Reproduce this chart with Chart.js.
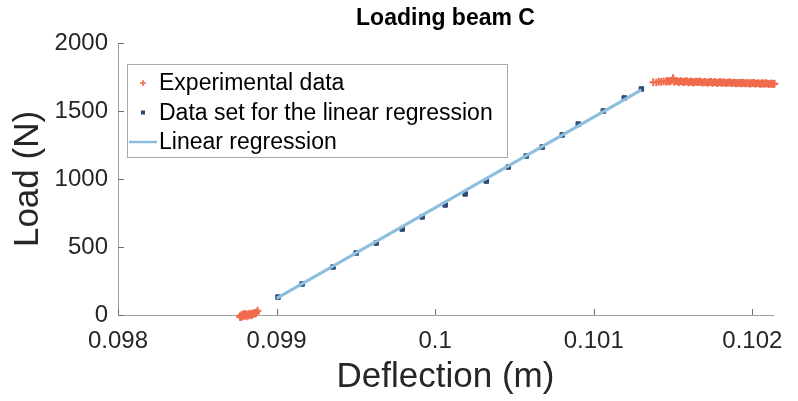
<!DOCTYPE html>
<html>
<head>
<meta charset="utf-8">
<script src="https://cdn.jsdelivr.net/npm/chart.js@4.4.1/dist/chart.umd.min.js"></script>
<style>
  html, body { margin: 0; padding: 0; background: #fff; }
  #wrap { width: 798px; height: 401px; position: relative; }
</style>
</head>
<body>
<div id="wrap"><canvas id="c"></canvas></div>
<script>
// ------------------------------------------------------------
// DATA
// ------------------------------------------------------------
const chartTitle = "Loading beam C";
const xTicks = [0.098, 0.099, 0.1, 0.101, 0.102];
const yTicks = [0, 500, 1000, 1500, 2000];

// experimental data: small cluster before loading starts
const expStartX = [0.09877, 0.09877, 0.09878, 0.09878, 0.09879, 0.09879, 0.09880, 0.09880, 0.09881, 0.09881,
                   0.09882, 0.09882, 0.09883, 0.09883, 0.09884, 0.09884, 0.09885, 0.09885, 0.09886, 0.09886,
                   0.09887, 0.09887, 0.09888];
const expStartY = [-8, -16, 2, -14, 5, -9, -4, 8, -10, 3,
                   6, -6, 10, 0, 7, -3, 12, 4, 9, 14,
                   11, 18, 32];

// experimental data: plateau after yielding
const expPlateauX = [0.101375, 0.101395, 0.101410, 0.101425, 0.101440, 0.101455, 0.101470, 0.101485, 0.101500, 0.101515,
                     0.101530, 0.101545, 0.101560, 0.101575, 0.101590, 0.101605, 0.101620, 0.101635, 0.101650, 0.101665,
                     0.101680, 0.101695, 0.101710, 0.101725, 0.101740, 0.101755, 0.101770, 0.101785, 0.101800, 0.101815,
                     0.101830, 0.101845, 0.101860, 0.101875, 0.101890, 0.101905, 0.101920, 0.101935, 0.101950, 0.101965,
                     0.101980, 0.101995, 0.102010, 0.102025, 0.102040, 0.102055, 0.102070, 0.102085, 0.102100, 0.102115,
                     0.102130, 0.102140];
const expPlateauY = [1712, 1710, 1716, 1714, 1718, 1715, 1719, 1722, 1742, 1720,
                     1717, 1719, 1715, 1716, 1718, 1713, 1715, 1712, 1714, 1716,
                     1711, 1713, 1710, 1712, 1714, 1709, 1711, 1708, 1712, 1710,
                     1707, 1709, 1711, 1706, 1708, 1705, 1707, 1709, 1704, 1706,
                     1703, 1705, 1707, 1702, 1704, 1701, 1703, 1705, 1700, 1702,
                     1699, 1701];
const expPlateau2X = [0.101462, 0.101477, 0.101492, 0.101507, 0.101522, 0.101537, 0.101552, 0.101567, 0.101582, 0.101597,
                      0.101612, 0.101627, 0.101642, 0.101657, 0.101672, 0.101687, 0.101702, 0.101717, 0.101732, 0.101747,
                      0.101762, 0.101777, 0.101792, 0.101807, 0.101822, 0.101837, 0.101852, 0.101867, 0.101882, 0.101897,
                      0.101912, 0.101927, 0.101942, 0.101957, 0.101972, 0.101987, 0.102002, 0.102017, 0.102032, 0.102047,
                      0.102062, 0.102077, 0.102092, 0.102107, 0.102122, 0.102135];
const expPlateau2Y = [1722, 1716, 1724, 1713, 1721, 1712, 1720, 1711, 1719, 1710,
                      1718, 1709, 1717, 1711, 1716, 1708, 1715, 1707, 1714, 1706,
                      1713, 1707, 1712, 1705, 1711, 1706, 1710, 1704, 1709, 1703,
                      1708, 1702, 1707, 1703, 1706, 1701, 1705, 1700, 1704, 1699,
                      1703, 1698, 1702, 1697, 1701, 1698];

// data set used for the linear regression
const fitX = [0.099009, 0.099161, 0.099356, 0.099502, 0.099628, 0.099792, 0.099918, 0.100063, 0.100189,
              0.100322, 0.100461, 0.100574, 0.100675, 0.100801, 0.100902, 0.101060, 0.101192, 0.101300];
const fitY = [132, 228, 353, 456, 529, 632, 721, 809, 890,
              985, 1088, 1169, 1235, 1324, 1404, 1500, 1596, 1662];

// linear regression end points
const regX = [0.09900, 0.10130];
const regY = [122, 1655];

const toPoints = (xs, ys) => xs.map((x, i) => ({ x, y: ys[i] }));

const RED = "#F06B4C";
const NAVY = "#2E4B76";
const LIGHTBLUE = "#8EBEDD";
const TEXT = "#262626";
const FONT = "'Liberation Sans', Arial, Helvetica, sans-serif";

Chart.defaults.font.family = FONT;
Chart.defaults.color = TEXT;

// ------------------------------------------------------------
// PLUGINS
// ------------------------------------------------------------
// MATLAB style: ticks pointing into the plot
const innerTicks = {
  id: "innerTicks",
  beforeDatasetsDraw(chart) {
    const { ctx, chartArea, scales } = chart;
    ctx.save();
    ctx.strokeStyle = "#6E6E6E";
    ctx.lineWidth = 1;
    ctx.beginPath();
    scales.x.ticks.forEach(t => {
      const px = Math.round(scales.x.getPixelForValue(t.value)) + 0.5;
      ctx.moveTo(px, chartArea.bottom);
      ctx.lineTo(px, chartArea.bottom - 6);
    });
    scales.y.ticks.forEach(t => {
      const py = Math.round(scales.y.getPixelForValue(t.value)) + 0.5;
      ctx.moveTo(chartArea.left, py);
      ctx.lineTo(chartArea.left + 6, py);
    });
    ctx.stroke();
    ctx.restore();
  }
};

// title centred over the axes
const axesTitle = {
  id: "axesTitle",
  afterDraw(chart) {
    const { ctx, chartArea } = chart;
    ctx.save();
    ctx.font = "bold 23px " + FONT;
    ctx.fillStyle = "#000";
    ctx.textAlign = "center";
    ctx.textBaseline = "middle";
    ctx.fillText(chartTitle, (chartArea.left + chartArea.right) / 2, 19);
    ctx.restore();
  }
};

// legend box in the upper left of the axes
const boxLegend = {
  id: "boxLegend",
  afterDraw(chart) {
    const { ctx } = chart;
    const box = { x: 127, y: 64, w: 380, h: 93 };
    const rows = [83, 112.5, 142];
    const sets = chart.data.datasets;

    ctx.save();
    ctx.fillStyle = "#fff";
    ctx.fillRect(box.x, box.y, box.w, box.h);
    ctx.strokeStyle = "#A8A8A8";
    ctx.lineWidth = 1;
    ctx.strokeRect(box.x + 0.5, box.y + 0.5, box.w, box.h);

    // red cross
    ctx.strokeStyle = sets[0].borderColor;
    ctx.lineWidth = 1.5;
    ctx.beginPath();
    ctx.moveTo(140, rows[0]); ctx.lineTo(146, rows[0]);
    ctx.moveTo(143, rows[0] - 3); ctx.lineTo(143, rows[0] + 3);
    ctx.stroke();

    // navy square
    ctx.fillStyle = sets[1].backgroundColor;
    ctx.fillRect(141, rows[1] - 2, 4, 4);

    // light blue line
    ctx.strokeStyle = sets[2].borderColor;
    ctx.lineWidth = 2.5;
    ctx.beginPath();
    ctx.moveTo(129, rows[2]); ctx.lineTo(157, rows[2]);
    ctx.stroke();

    ctx.font = "23px " + FONT;
    ctx.fillStyle = "#000";
    ctx.textAlign = "left";
    ctx.textBaseline = "middle";
    sets.forEach((ds, i) => ctx.fillText(ds.label, 159, rows[i] + 1));
    ctx.restore();
  }
};

// ------------------------------------------------------------
// CHART
// ------------------------------------------------------------
new Chart(document.getElementById("c"), {
  type: "scatter",
  data: {
    datasets: [
      {
        label: "Experimental data",
        data: toPoints(expStartX, expStartY)
          .concat(toPoints(expPlateauX, expPlateauY))
          .concat(toPoints(expPlateau2X, expPlateau2Y)),
        pointStyle: "cross",
        pointRadius: 3.8,
        borderWidth: 2,
        borderColor: RED,
        backgroundColor: RED,
        clip: false,
        order: 3
      },
      {
        label: "Data set for the linear regression",
        data: toPoints(fitX, fitY),
        pointStyle: "rect",
        pointRadius: 3.2,
        borderWidth: 1,
        borderColor: NAVY,
        backgroundColor: NAVY,
        order: 2
      },
      {
        type: "line",
        label: "Linear regression",
        data: toPoints(regX, regY),
        showLine: true,
        pointRadius: 0,
        borderWidth: 3,
        borderColor: LIGHTBLUE,
        backgroundColor: LIGHTBLUE,
        order: 1
      }
    ]
  },
  options: {
    responsive: true,
    maintainAspectRatio: false,
    animation: false,
    devicePixelRatio: 1,
    layout: { padding: { top: 43, right: 25, left: 0, bottom: 0 } },
    plugins: {
      legend: { display: false },
      title: { display: false },
      tooltip: { enabled: false }
    },
    scales: {
      x: {
        type: "linear",
        min: 0.098,
        max: 0.10213,
        afterBuildTicks: s => { s.ticks = xTicks.map(v => ({ value: v })); },
        afterFit: s => { s.height = 86; },
        grid: { display: false, drawTicks: false },
        border: { display: true, color: "#A0A0A0", width: 1 },
        ticks: {
          padding: 12,
          color: TEXT,
          font: { size: 24 },
          maxRotation: 0,
          callback: v => String(Number(v.toFixed(3)))
        },
        title: {
          display: true,
          text: "Deflection (m)",
          color: TEXT,
          font: { size: 35 },
          padding: { top: 0, bottom: 3 }
        }
      },
      y: {
        type: "linear",
        min: 0,
        max: 2000,
        afterBuildTicks: s => { s.ticks = yTicks.map(v => ({ value: v })); },
        afterFit: s => { s.width = 118; },
        grid: { display: false, drawTicks: false },
        border: { display: true, color: "#A0A0A0", width: 1 },
        ticks: {
          padding: 10,
          color: TEXT,
          font: { size: 24 },
          callback: v => String(v)
        },
        title: {
          display: true,
          text: "Load (N)",
          color: TEXT,
          font: { size: 35 },
          padding: { top: 7, bottom: 0 }
        }
      }
    }
  },
  plugins: [innerTicks, axesTitle, boxLegend]
});
</script>
</body>
</html>
